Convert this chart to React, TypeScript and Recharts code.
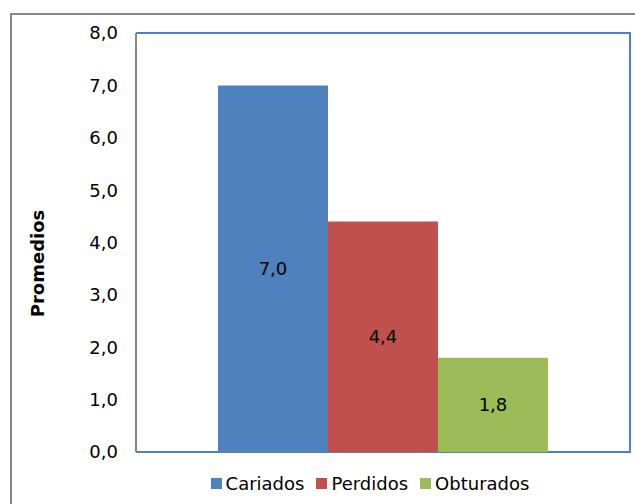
import React from 'react';
import { BarChart, Bar, XAxis, YAxis, Legend, LabelList, ReferenceArea } from 'recharts';

const categories = ['Promedios'];
const seriesNames = ['Cariados', 'Perdidos', 'Obturados'];
const seriesValues = [7.0, 4.4, 1.8];
const seriesColors = ['#4F81BD', '#C0504D', '#9BBB59'];
const yTicks = [0, 1, 2, 3, 4, 5, 6, 7, 8];
const yLabel = 'Promedios';

const data = categories.map((c) => {
  const row: Record<string, number | string> = { name: c };
  seriesNames.forEach((s, i) => {
    row[s] = seriesValues[i];
  });
  return row;
});

const FONT = '"DejaVu Sans", Verdana, sans-serif';
const fmt = (v: any) => Number(v).toFixed(1).replace('.', ',');

const LegendContent = () => (
  <div style={{ display: 'flex', justifyContent: 'center', alignItems: 'center', fontSize: 18, fontFamily: FONT, color: '#000', lineHeight: '21px' }}>
    {seriesNames.map((s, i) => (
      <span key={s} style={{ display: 'inline-flex', alignItems: 'center', marginRight: i < seriesNames.length - 1 ? 12 : 0 }}>
        <span style={{ display: 'inline-block', width: 11, height: 11, background: seriesColors[i], marginRight: 4 }} />
        {s}
      </span>
    ))}
  </div>
);

const YLabel = (props: any) => {
  const vb = props.viewBox || {};
  const cx = 37;
  const cy = vb.y + vb.height / 2 + 21;
  return (
    <text x={cx} y={cy} transform={`rotate(-90, ${cx}, ${cy})`} textAnchor="middle" dominantBaseline="central" fill="#000" fontSize={18} fontWeight="bold" fontFamily={FONT}>
      {yLabel}
    </text>
  );
};

export default function App() {
  return (
    <div style={{ position: 'absolute', left: 0, top: 0, width: 635, height: 504, overflow: 'hidden', background: '#fff', fontFamily: FONT }}>
      <div style={{ position: 'absolute', left: 10, top: 13, width: 700, height: 600, border: '2px solid #878787', boxSizing: 'border-box' }} />
      <div style={{ position: 'absolute', left: 0, top: 0 }}>
        <BarChart
          width={635}
          height={504}
          data={data}
          margin={{ top: 33, right: 5, left: 0, bottom: 31 }}
          barGap={0}
        >
          <ReferenceArea yAxisId="left" y1={0} y2={8} fill="none" stroke="#4F81BD" strokeWidth={2} strokeDasharray="1407 600" ifOverflow="visible" />
          <XAxis dataKey="name" tick={false} tickLine={false} axisLine={false} height={0} />
          <YAxis
            yAxisId="left"
            width={136}
            domain={[0, 8]}
            ticks={yTicks}
            tickFormatter={fmt}
            tickLine={false}
            tickSize={0}
            tickMargin={18}
            axisLine={{ stroke: '#868686', strokeWidth: 2 }}
            tick={{ fill: '#000', fontSize: 18, fontFamily: FONT }}
            interval={0}
            label={<YLabel />}
          />
          {seriesNames.map((s, i) => (
            <Bar key={s} yAxisId="left" dataKey={s} fill={seriesColors[i]} barSize={110} isAnimationActive={false}>
              <LabelList dataKey={s} position="center" formatter={fmt} style={{ fill: '#000', fontSize: 18, fontFamily: FONT }} />
            </Bar>
          ))}
          <Legend
            verticalAlign="bottom"
            content={<LegendContent />}
            wrapperStyle={{ left: 105, width: 530, top: 473, height: 21 }}
          />
        </BarChart>
      </div>
    </div>
  );
}
